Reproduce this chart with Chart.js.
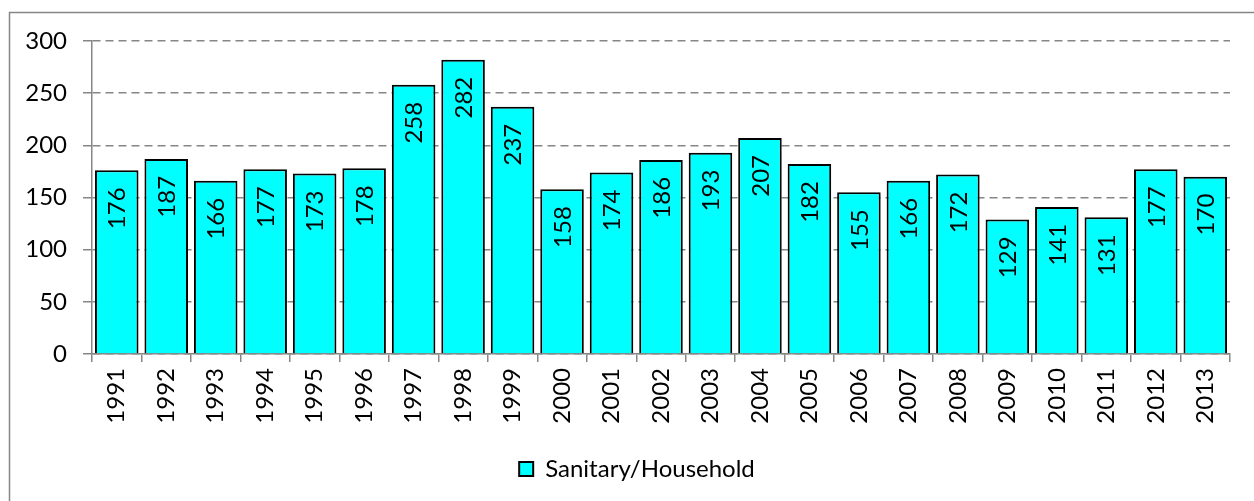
<!DOCTYPE html>
<html>
<head>
<meta charset="utf-8">
<script src="https://cdn.jsdelivr.net/npm/chart.js@4"></script>
<style>
  html, body { margin: 0; padding: 0; background: #fff; }
  #wrap { width: 1254px; height: 501px; }
</style>
</head>
<body>
<div id="wrap"><canvas id="chart" width="1254" height="501"></canvas></div>
<script>
const years = ['1991','1992','1993','1994','1995','1996','1997','1998','1999','2000','2001','2002',
  '2003','2004','2005','2006','2007','2008','2009','2010','2011','2012','2013'];
const sanitary = [176,187,166,177,173,178,258,282,237,158,174,186,193,207,182,155,166,172,129,141,131,177,170];
const seriesName = 'Sanitary/Household';
const yTicks = [0, 50, 100, 150, 200, 250, 300];

const FONT = 'Lato, "Liberation Sans", sans-serif';
const FSIZE = 24;
const axisGray = '#868686';

// outer frame of the chart box
const frame = {
  id: 'frame',
  beforeDraw(chart) {
    const c = chart.ctx;
    c.save();
    c.fillStyle = '#fff';
    c.fillRect(0, 0, chart.width, chart.height);
    c.strokeStyle = '#868686';
    c.lineWidth = 1.5;
    c.strokeRect(9.5, 12.5, 1400, 700);
    c.restore();
  }
};

// legend sits a bit right of the canvas centre in the original
const legendShift = {
  id: 'legendShift',
  afterLayout(chart) {
    const lg = chart.legend;
    if (lg) { lg.left += 22; lg.right += 22; }
  }
};

// rotated value labels inside the bars, near the top
const barLabels = {
  id: 'barLabels',
  afterDatasetsDraw(chart) {
    const c = chart.ctx;
    const meta = chart.getDatasetMeta(0);
    c.save();
    c.fillStyle = '#000';
    c.font = FSIZE + 'px ' + FONT;
    c.textAlign = 'right';
    c.textBaseline = 'middle';
    meta.data.forEach((bar, i) => {
      c.save();
      c.translate(bar.x, bar.y + 17);
      c.rotate(-Math.PI / 2);
      c.fillText(String(sanitary[i]), 0, 1);
      c.restore();
    });
    c.restore();
  }
};

new Chart(document.getElementById('chart'), {
  type: 'bar',
  data: {
    labels: years,
    datasets: [{
      label: seriesName,
      data: sanitary,
      backgroundColor: '#00FFFF',
      borderColor: '#000',
      borderWidth: 2,
      barPercentage: 0.88,
      categoryPercentage: 1
    }]
  },
  options: {
    responsive: false,
    animation: false,
    events: [],
    layout: { padding: { left: 0, top: 41, right: 24, bottom: 10 } },
    plugins: {
      legend: {
        position: 'bottom',
        labels: {
          color: '#000',
          font: { family: FONT, size: FSIZE },
          boxWidth: 14,
          boxHeight: 14,
          padding: 10
        }
      },
      tooltip: { enabled: false }
    },
    scales: {
      x: {
        offset: true,
        grid: {
          offset: true,
          drawOnChartArea: false,
          drawTicks: true,
          tickLength: 8,
          color: axisGray,
          lineWidth: 1.5
        },
        border: { color: axisGray, width: 1.5 },
        ticks: {
          color: '#000',
          font: { family: FONT, size: FSIZE },
          minRotation: 90,
          maxRotation: 90,
          padding: 6,
          autoSkip: false
        },
        afterFit(scale) { scale.height = 93; }
      },
      y: {
        min: 0,
        max: 300,
        afterBuildTicks(scale) { scale.ticks = yTicks.map(v => ({ value: v })); },
        grid: {
          color: axisGray,
          lineWidth: 1.5,
          tickLength: 9,
          drawTicks: true
        },
        border: { color: axisGray, width: 1.5, dash: [8, 5] },
        ticks: {
          color: '#000',
          font: { family: FONT, size: FSIZE },
          padding: 16
        },
        afterFit(scale) { scale.width = 92; }
      }
    }
  },
  plugins: [frame, legendShift, barLabels]
});
</script>
</body>
</html>
